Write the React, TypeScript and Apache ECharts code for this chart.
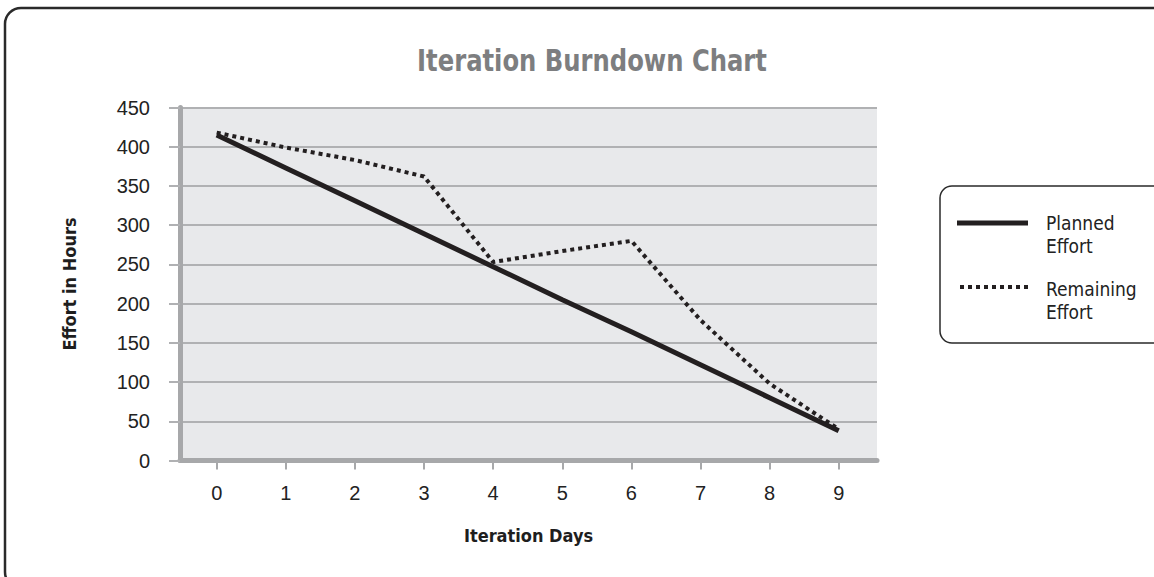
import React, { useEffect, useRef } from "react";
import * as echarts from "echarts";

const days = [0, 1, 2, 3, 4, 5, 6, 7, 8, 9];
const plannedEffort = [415, 373, 331, 289, 247, 205, 164, 122, 80, 38];
const remainingEffort = [418, 399, 383, 362, 253, 267, 280, 179, 98, 40];
const yTicks = { min: 0, max: 450, interval: 50 };
const titleText = "Iteration Burndown Chart";
const xName = "Iteration Days";
const yName = "Effort in Hours";
const legendNames = ["Planned\nEffort", "Remaining\nEffort"];

const NARROW = "'Liberation Sans Narrow', 'DejaVu Sans Condensed', 'Liberation Sans', sans-serif";
const SANS = "'Liberation Sans', Arial, sans-serif";

export default function App() {
  const ref = useRef<HTMLDivElement>(null);
  useEffect(() => {
    if (!ref.current) return;
    const chart = echarts.init(ref.current, null, { renderer: "svg" });
    const planned = days.map((d, i) => [d, plannedEffort[i]]);
    const remaining = days.map((d, i) => [d, remainingEffort[i]]);
    chart.setOption({
      animation: false,
      backgroundColor: "#ffffff",
      grid: {
        left: 180,
        right: 277,
        top: 107.5,
        bottom: 116.5,
        show: true,
        backgroundColor: "#e8e9eb",
        borderWidth: 0,
      },
      xAxis: {
        type: "value",
        min: -0.531,
        max: 9.554,
        name: xName,
        nameLocation: "middle",
        nameGap: 66,
        nameTextStyle: { fontFamily: NARROW, fontWeight: "bold", fontSize: 18, color: "#1e1e1e" },
        axisLine: { show: true, onZero: false, lineStyle: { color: "#a7a8aa", width: 5 } },
        axisTick: { show: true, customValues: days, length: 9, lineStyle: { color: "#a7a8aa", width: 2 } },
        axisLabel: { customValues: days, margin: 22, fontFamily: SANS, fontSize: 20, color: "#222" },
        splitLine: { show: false },
      },
      yAxis: {
        type: "value",
        min: yTicks.min,
        max: yTicks.max,
        interval: yTicks.interval,
        name: yName,
        nameLocation: "middle",
        nameGap: 102,
        nameRotate: 90,
        nameTextStyle: { fontFamily: NARROW, fontWeight: "bold", fontSize: 18, color: "#1e1e1e" },
        axisLine: { show: true, onZero: false, lineStyle: { color: "#a7a8aa", width: 5 } },
        axisTick: { show: true, length: 11, lineStyle: { color: "#b0b1b3", width: 2 } },
        axisLabel: { margin: 30, fontFamily: SANS, fontSize: 20, color: "#222" },
        splitLine: { show: true, lineStyle: { color: "#b0b1b3", width: 2 } },
      },
      series: [
        {
          type: "line",
          name: "Planned Effort",
          data: planned,
          symbol: "none",
          lineStyle: { color: "#231f20", width: 5 },
          z: 3,
        },
        {
          type: "line",
          name: "Remaining Effort",
          data: remaining,
          symbol: "none",
          lineStyle: { color: "#231f20", width: 4, type: [4, 4] },
          z: 4,
        },
      ],
      graphic: [
        {
          type: "rect",
          shape: { x: 5, y: 8, width: 1170, height: 580, r: 16 },
          style: { fill: "none", stroke: "#2a2a2a", lineWidth: 2.5 },
          z: 0,
        },
        {
          type: "text",
          x: 592,
          y: 60,
          scaleX: 0.87,
          style: {
            text: titleText,
            fontFamily: NARROW,
            fontWeight: "bold",
            fontSize: 31,
            fill: "#7d7e80",
            align: "center",
            verticalAlign: "middle",
          },
        },
        {
          type: "rect",
          shape: { x: 940, y: 186, width: 240, height: 157, r: 12 },
          style: { fill: "#ffffff", stroke: "#2a2a2a", lineWidth: 1.5 },
        },
        {
          type: "line",
          shape: { x1: 957, y1: 223, x2: 1028, y2: 223 },
          style: { stroke: "#231f20", lineWidth: 5 },
        },
        {
          type: "line",
          shape: { x1: 960, y1: 287, x2: 1030, y2: 287 },
          style: { stroke: "#231f20", lineWidth: 4, lineDash: [4, 4] },
        },
        {
          type: "text",
          x: 1046,
          y: 234,
          style: {
            text: legendNames[0],
            fontFamily: NARROW,
            fontSize: 19,
            lineHeight: 23,
            fill: "#222",
            align: "left",
            verticalAlign: "middle",
          },
        },
        {
          type: "text",
          x: 1046,
          y: 300,
          style: {
            text: legendNames[1],
            fontFamily: NARROW,
            fontSize: 19,
            lineHeight: 23,
            fill: "#222",
            align: "left",
            verticalAlign: "middle",
          },
        },
      ],
    });
    return () => chart.dispose();
  }, []);
  return (
    <div
      ref={ref}
      style={{ position: "fixed", left: 0, top: 0, width: 1154, height: 577 }}
    />
  );
}
